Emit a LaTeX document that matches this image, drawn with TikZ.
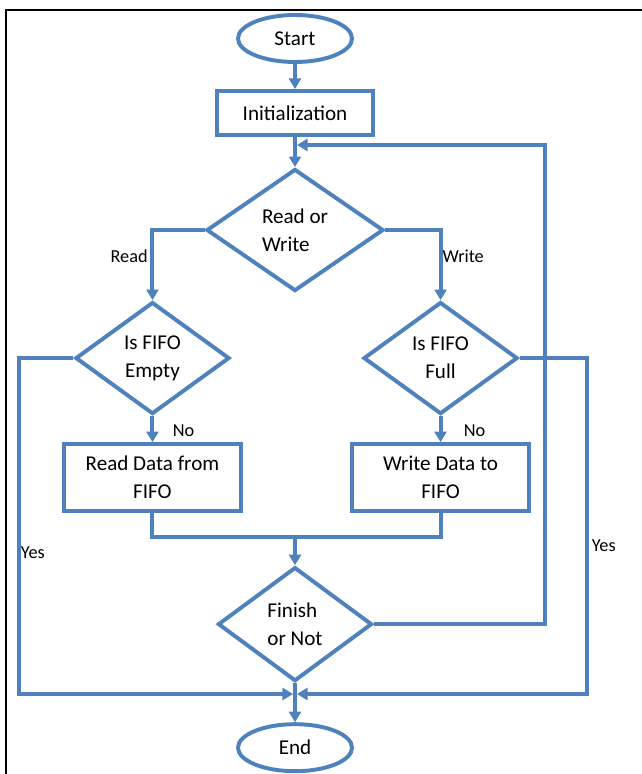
\documentclass[tikz,border=0pt]{standalone}
\usepackage{fontspec}
\setmainfont{Carlito}
\usetikzlibrary{shapes.geometric,arrows.meta}
\definecolor{flowblue}{RGB}{79,129,189}
\begin{document}
\begin{tikzpicture}
  [x=0.025cm, y=-0.025cm,
   flowline/.style = {draw=flowblue, line width=2.8pt},
   arrow/.style = {flowline, -{Triangle[length=7.5pt, width=8.5pt]}},
   shapetext/.style = {font=\fontsize{15}{20}\selectfont, text=black},
   terminal/.style = {ellipse, flowline, shapetext, inner sep=0pt, minimum width=2.85cm, minimum height=1.175cm},
   process/.style = {rectangle, flowline, shapetext, inner sep=0pt, align=center},
   decision/.style = {diamond, flowline, shapetext, inner sep=0pt, align=left, minimum width=3.85cm, minimum height=2.8cm},
   lbl/.style = {font=\fontsize{13}{15}\selectfont, text=black, inner sep=1pt}]
  \useasboundingbox (0,0) rectangle (642,774);
  % frame
  \draw[black, line width=1.1pt] (6,774) -- (6,10) -- (642,10);
  % nodes
  \node[terminal] (start) at (295,38.5) {Start};
  \node[process, minimum width=3.9cm, minimum height=1.1cm] (init) [below of=start, node distance=1.8625cm] {Initialization};
  \node[decision, minimum width=4.425cm, minimum height=3.05cm] (rw) [below of=init, node distance=2.925cm] {Read or\\Write};
  \node[decision, align=center] (empty) [below of=rw, node distance=3.2cm, xshift=-3.5625cm] {Is FIFO\\Empty};
  \node[decision, align=center] (full) [right of=empty, node distance=7.2cm] {Is FIFO\\Full};
  \node[process, minimum width=4.425cm, minimum height=1.675cm] (readdata) [below of=empty, node distance=2.9875cm] {Read Data from\\FIFO};
  \node[process, minimum width=4.425cm, minimum height=1.675cm] (writedata) [below of=full, node distance=2.9875cm] {Write Data to\\FIFO};
  \node[decision, minimum height=2.85cm] (fin) [below of=rw, node distance=9.85cm] {Finish\\or Not};
  \node[terminal] (end) [below of=fin, node distance=3.0875cm] {End};
  % bends
  \coordinate (merge) at (295,537);
  \coordinate (loopin) at (295,145);
  \coordinate (loopbus) at (545,145);
  \coordinate (leftbus) at (19,694);
  \coordinate (rightbus) at (587,694);
  \coordinate (endin) at (295,694);
  % connectors
  \draw[arrow] (start) -- (init);
  \draw[arrow] (init) -- (rw);
  \draw[arrow] (rw.west) -| node[lbl, pos=0.69, left, inner sep=2pt] {Read} (empty.north);
  \draw[arrow] (rw.east) -| node[lbl, pos=0.69, right, inner sep=0pt] {Write} (full.north);
  \draw[arrow] (empty) -- node[lbl, pos=0.55, right, xshift=0.425cm] {No} (readdata);
  \draw[arrow] (full) -- node[lbl, pos=0.55, right, xshift=0.5cm] {No} (writedata);
  \draw[flowline] (readdata.south) |- (merge) -| (writedata.south);
  \draw[arrow] (merge) -- (fin);
  \draw[arrow, shorten >=1.4pt] (fin.east) -| (loopbus) -- (loopin);
  \draw[arrow, shorten >=1.4pt] (empty.west) -| node[lbl, pos=0.79, right, inner sep=0pt] {Yes} (leftbus) -- (endin);
  \draw[arrow, shorten >=1.4pt] (full.east) -| node[lbl, pos=0.78, right, inner sep=2pt] {Yes} (rightbus) -- (endin);
  \draw[arrow] (fin) -- (end);
\end{tikzpicture}
\end{document}
